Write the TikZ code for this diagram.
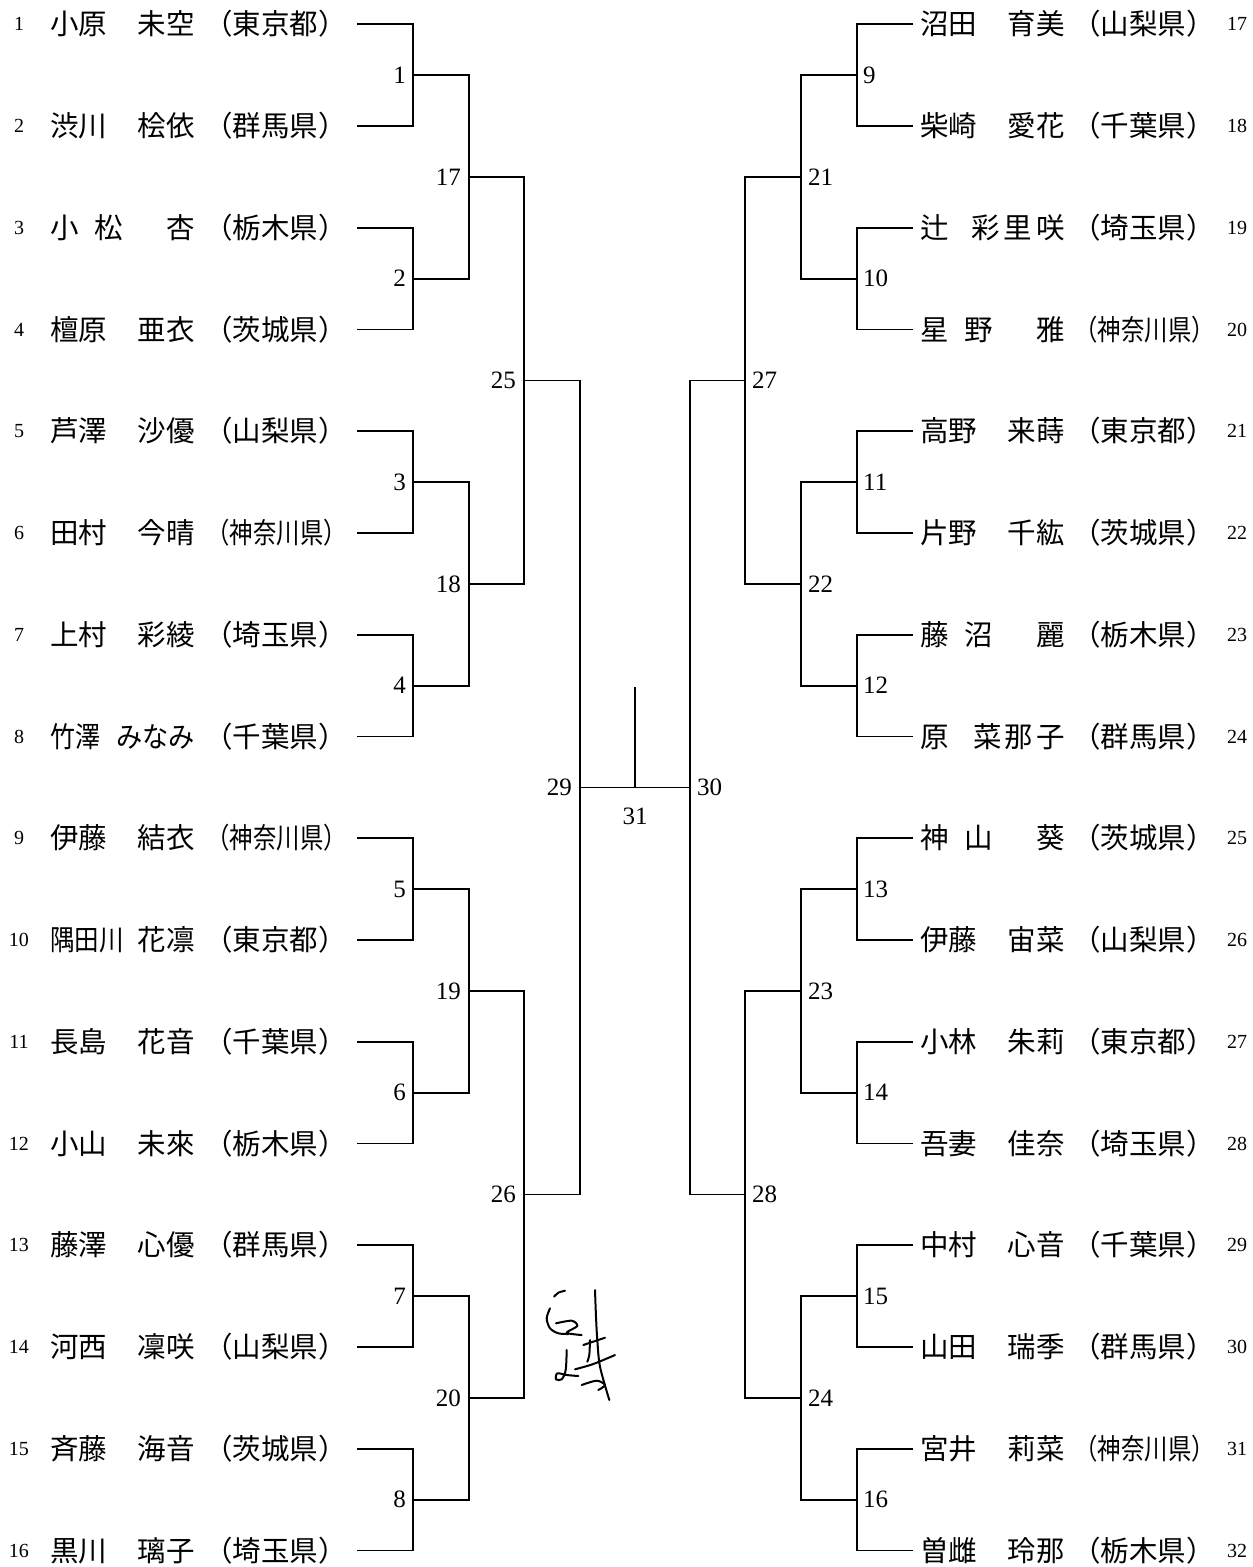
\documentclass[tikz,border=0pt]{standalone}
\usepackage{fontspec}
\usepackage{graphicx}
\newfontfamily\jpfont{Noto Sans CJK JP}
\newfontfamily\numfont{Liberation Serif}
\newcommand\knpref{\scalebox{0.82}[1]{（神奈川県）}}
\newcommand\sq[2]{\scalebox{#1}[1]{#2}}
\begin{document}
\begin{tikzpicture}[x=1pt,y=-1pt,
  bline/.style={line width=1.8pt},
  jname/.style={font=\jpfont\fontsize{28.5}{30}\selectfont,inner sep=0pt,text height=24.5pt,text depth=3.5pt},
  pnum/.style={font=\numfont\fontsize{20}{22}\selectfont,inner sep=0pt},
  mnum/.style={font=\numfont\fontsize{25}{27}\selectfont,inner sep=0pt}]
\useasboundingbox (0,0) rectangle (1253,1567);
% left half: players 1-16
\foreach \n/\sur/\giv/\pref in {1/小原/未空/（東京都）, 2/渋川/桧依/（群馬県）,
  3/{小\hspace{16pt}松}/杏/（栃木県）, 4/檀原/亜衣/（茨城県）, 5/芦澤/沙優/（山梨県）,
  6/田村/今晴/\knpref, 7/上村/彩綾/（埼玉県）, 8/{\sq{0.88}{竹澤}}/{\sq{0.92}{みなみ}}/（千葉県）,
  9/伊藤/結衣/\knpref, 10/{\sq{0.86}{隅田川}}/花凛/（東京都）, 11/長島/花音/（千葉県）,
  12/小山/未來/（栃木県）, 13/藤澤/心優/（群馬県）, 14/河西/凜咲/（山梨県）,
  15/斉藤/海音/（茨城県）, 16/黒川/璃子/（埼玉県）}{
  \pgfmathsetmacro\yy{24.3+(\n-1)*101.75}
  \node[pnum] (num\n) at (19,\yy) {\n};
  \node[jname,anchor=west] (sur\n) at (50,\yy) {\sur};
  \node[jname,anchor=east] (giv\n) at (195,\yy) {\giv};
  \node[jname,anchor=east] (pref\n) at (347,\yy) {\pref};
  \coordinate (p\n) at (357,\yy);
}
% right half: players 17-32
\foreach \n/\sur/\giv/\pref in {17/沼田/育美/（山梨県）, 18/柴崎/愛花/（千葉県）,
  19/辻/{彩\hspace{4pt}里\hspace{4pt}咲}/（埼玉県）, 20/{星\hspace{16pt}野}/雅/\knpref, 21/高野/来蒔/（東京都）,
  22/片野/千紘/（茨城県）, 23/{藤\hspace{16pt}沼}/麗/（栃木県）, 24/原/{菜\hspace{3pt}那\hspace{3pt}子}/（群馬県）,
  25/{神\hspace{16pt}山}/葵/（茨城県）, 26/伊藤/宙菜/（山梨県）, 27/小林/朱莉/（東京都）,
  28/吾妻/佳奈/（埼玉県）, 29/中村/心音/（千葉県）, 30/山田/瑞季/（群馬県）,
  31/宮井/莉菜/\knpref, 32/曽雌/玲那/（栃木県）}{
  \pgfmathsetmacro\yy{24.3+(\n-17)*101.75}
  \node[pnum] (num\n) at (1237,\yy) {\n};
  \node[jname,anchor=west] (sur\n) at (920,\yy) {\sur};
  \node[jname,anchor=east] (giv\n) at (1065,\yy) {\giv};
  \node[jname,anchor=east] (pref\n) at (1215,\yy) {\pref};
  \coordinate (p\n) at (913,\yy);
}
% first round
\foreach \k in {1,...,8}{
  \pgfmathsetmacro\yy{24.3+(2*\k-1.5)*101.75}
  \pgfmathtruncatemacro\a{2*\k-1}
  \pgfmathtruncatemacro\b{2*\k}
  \pgfmathtruncatemacro\r{8+\k}
  \pgfmathtruncatemacro\c{16+2*\k-1}
  \pgfmathtruncatemacro\d{16+2*\k}
  \coordinate (m\k) at (413,\yy);
  \coordinate (m\r) at (857,\yy);
  \node[mnum,anchor=east] (t\k) at (406,\yy) {\k};
  \node[mnum,anchor=west] (t\r) at (863,\yy) {\r};
  \draw[bline] (p\a) -| (m\k) |- (p\b);
  \draw[bline] (p\c) -| (m\r) |- (p\d);
}
% second round
\foreach \j in {1,...,4}{
  \pgfmathsetmacro\yy{24.3+(4*\j-2.5)*101.75}
  \pgfmathtruncatemacro\l{16+\j}
  \pgfmathtruncatemacro\r{20+\j}
  \pgfmathtruncatemacro\a{2*\j-1}
  \pgfmathtruncatemacro\b{2*\j}
  \pgfmathtruncatemacro\c{8+2*\j-1}
  \pgfmathtruncatemacro\d{8+2*\j}
  \coordinate (m\l) at (469,\yy);
  \coordinate (m\r) at (801,\yy);
  \node[mnum,anchor=east] (t\l) at (461,\yy) {\l};
  \node[mnum,anchor=west] (t\r) at (808,\yy) {\r};
  \draw[bline] (m\a) -| (m\l) |- (m\b);
  \draw[bline] (m\c) -| (m\r) |- (m\d);
}
% third round
\foreach \j in {1,2}{
  \pgfmathsetmacro\yy{24.3+(8*\j-4.5)*101.75}
  \pgfmathtruncatemacro\l{24+\j}
  \pgfmathtruncatemacro\r{26+\j}
  \pgfmathtruncatemacro\a{16+2*\j-1}
  \pgfmathtruncatemacro\b{16+2*\j}
  \pgfmathtruncatemacro\c{20+2*\j-1}
  \pgfmathtruncatemacro\d{20+2*\j}
  \coordinate (m\l) at (524,\yy);
  \coordinate (m\r) at (745,\yy);
  \node[mnum,anchor=east] (t\l) at (516,\yy) {\l};
  \node[mnum,anchor=west] (t\r) at (752,\yy) {\r};
  \draw[bline] (m\a) -| (m\l) |- (m\b);
  \draw[bline] (m\c) -| (m\r) |- (m\d);
}
% semifinals and final
\coordinate (m29) at (580,787.4);
\coordinate (m30) at (690,787.4);
\coordinate (m31) at (635,787.4);
\coordinate (top31) at (635,687);
\node[mnum,anchor=east] (t29) at (572,787.4) {29};
\node[mnum,anchor=west] (t30) at (697,787.4) {30};
\node[mnum,anchor=north] (t31) at (635,808) {31};
\draw[bline] (m25) -| (m29) |- (m26);
\draw[bline] (m27) -| (m30) |- (m28);
\draw[bline] (m29) -- (m30);
\draw[bline] (m31) -- (top31);
% handwritten mark
\begin{scope}[line width=2pt,line cap=round,line join=round]
\draw plot[smooth] coordinates {(554,1296.7) (558.3,1292.7) (565,1290.7)};
\draw plot[smooth] coordinates {(550,1308.3) (546.7,1318.3) (550,1328.3) (558.3,1333.3) (568.3,1334)};
\draw plot[smooth] coordinates {(556,1323.3) (571.7,1320.7) (577.3,1326) (566.7,1332.7) (581.7,1335)};
\draw plot[smooth] coordinates {(595,1290) (596,1316.7) (597.3,1340) (600,1366.7) (609.3,1400)};
\draw (583.3,1345) -- (605,1337.7);
\draw plot[smooth] coordinates {(590,1340) (589.3,1355) (587.3,1361.7)};
\draw plot[smooth] coordinates {(575,1369.3) (593.3,1364) (615,1355)};
\draw plot[smooth] coordinates {(566.7,1350) (565.7,1370) (561.7,1379.3) (556,1379.3) (557.3,1373.3) (566.7,1375) (578.3,1376)};
\draw plot[smooth] coordinates {(581.7,1385) (596.7,1380.7) (605,1385) (598.3,1390)};
\end{scope}
\end{tikzpicture}
\end{document}
